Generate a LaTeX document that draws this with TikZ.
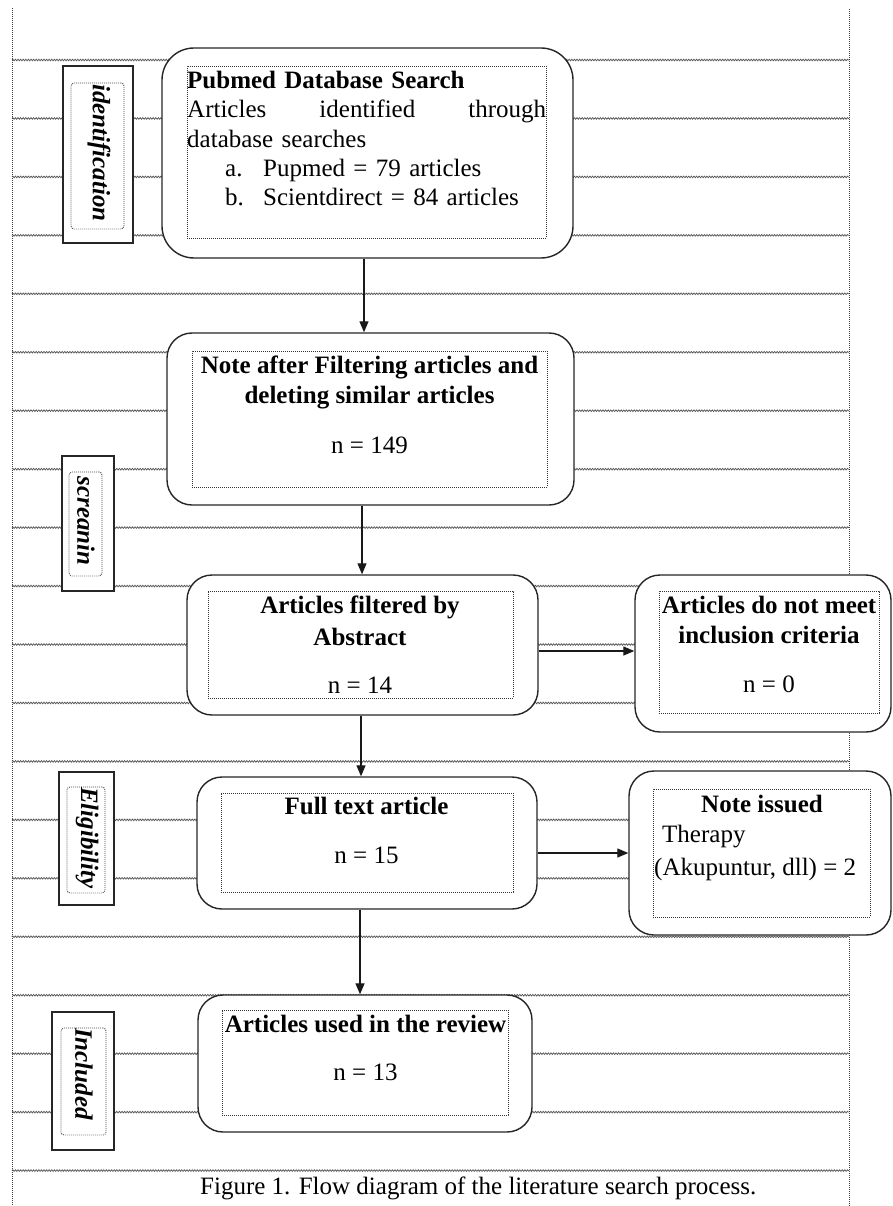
\documentclass[tikz,border=0pt]{standalone}
\usepackage{fontspec}
\setmainfont{Liberation Serif}
\usetikzlibrary{arrows.meta,decorations.pathmorphing}
\tikzstyle{stagebox}  =[draw=black!85,fill=white,rounded corners=25pt,line width=1.4pt,inner sep=0pt]
\tikzstyle{innerframe}=[draw=black!80,dash pattern=on 0.9pt off 1.1pt,line width=0.9pt,inner sep=0pt]
\tikzstyle{tagbox}    =[draw=black!85,fill=white,line width=1.4pt,inner sep=0pt]
\tikzstyle{tagframe}  =[draw=black!70,dash pattern=on 0.9pt off 1.1pt,line width=0.9pt,rounded corners=3pt,inner sep=0pt]
\tikzstyle{tagtext}   =[rotate=-90,font=\fontsize{25}{30}\selectfont\bfseries\itshape,inner sep=0pt]
\tikzstyle{bodytext}  =[font=\fontsize{25}{30}\selectfont,inner sep=0pt,align=center,anchor=north]
\tikzstyle{flow}      =[-{Triangle[length=11pt,width=9pt]},line width=1.3pt,black!90]
\tikzstyle{ruleline}  =[black!65,line width=0.75pt,decorate,decoration={snake,amplitude=0.8pt,segment length=2.6pt}]
\tikzstyle{sideline}  =[black!75,line width=1pt,dash pattern=on 1pt off 1pt]

\begin{document}
\begin{tikzpicture}[x=1pt,y=-1pt]
  \useasboundingbox (0,0) rectangle (892,1206);

  % page grid behind the chart
  \foreach \k in {0,...,19}
    \draw[ruleline] (12,{60+58.45*\k}) -- (849,{60+58.45*\k});
  \draw[sideline] (12,8) -- (12,1206);
  \draw[sideline] (849,9) -- (849,1206);

  % stage labels
  \node[tagbox,minimum width=70pt,minimum height=177pt] (ident) at (98,154.5) {};
  \node[tagframe,minimum width=53pt,minimum height=146pt] (identin) at (97.5,156) {};
  \node[tagtext] (identtxt) at (99,153) {identification};

  \node[tagbox,minimum width=52pt,minimum height=135pt] (screen) at (88,523.5) {};
  \node[tagframe,minimum width=33pt,minimum height=104pt] (screenin) at (85.5,524) {};
  \node[tagtext] (screentxt) at (86,521) {screanin};

  \node[tagbox,minimum width=55pt,minimum height=133pt] (elig) at (86.5,838.5) {};
  \node[tagframe,minimum width=38pt,minimum height=106pt] (eligin) at (86,840) {};
  \node[tagtext] (eligtxt) at (87,838) {Eligibility};

  \node[tagbox,minimum width=62pt,minimum height=138pt] (incl) at (83,1081) {};
  \node[tagframe,minimum width=45pt,minimum height=107pt] (inclin) at (83.5,1081.5) {};
  \node[tagtext] (incltxt) at (84,1074) {Included};

  % flow boxes
  \node[stagebox,rounded corners=32pt,minimum width=411pt,minimum height=210pt] (search) at (367.5,153) {};
  \node[innerframe,minimum width=359pt,minimum height=172pt] (searchin) at (366.5,152) {};
  \node[bodytext,align=left,text width=359pt,anchor=north west,font=\fontsize{25}{29.3}\selectfont] (searchtxt) at (187,71)
    {\textbf{Pubmed Database Search}\\
     \leavevmode\hbox to 359pt{Articles\hfill identified\hfill through}\\
     database searches\\
     \hspace*{38pt}\makebox[38pt][l]{a.}Pupmed = 79 articles\\
     \hspace*{38pt}\makebox[38pt][l]{b.}Scientdirect = 84 articles};

  \node[stagebox,minimum width=407pt,minimum height=172pt] (filter) at (370.5,419) {};
  \node[innerframe,minimum width=355pt,minimum height=136pt] (filterin) at (369.5,419) {};
  \node[bodytext] (filtertxt) at (369.5,356)
    {\textbf{Note after Filtering articles and}\\\textbf{deleting similar articles}\\[20pt]n = 149};

  \node[stagebox,minimum width=351pt,minimum height=140pt] (abstract) at (362.5,645) {};
  \node[innerframe,minimum width=305pt,minimum height=107pt] (abstractin) at (360.5,644.5) {};
  \node[bodytext] (abstracttxt) at (360,596)
    {\textbf{Articles filtered by}\\[2pt]\textbf{Abstract}\\[18pt]n = 14};

  \node[stagebox,minimum width=256pt,minimum height=157pt] (excluded) at (763,653.5) {};
  \node[innerframe,minimum width=220pt,minimum height=122pt] (excludedin) at (769,652) {};
  \node[bodytext] (excludedtxt) at (769,596)
    {\textbf{Articles do not meet}\\\textbf{inclusion criteria}\\[19pt]n = 0};

  \node[stagebox,minimum width=340pt,minimum height=132pt] (fulltext) at (367,843) {};
  \node[innerframe,minimum width=292pt,minimum height=99pt] (fulltextin) at (367,842.5) {};
  \node[bodytext] (fulltexttxt) at (366.5,797)
    {\textbf{Full text article}\\[19pt]n = 15};

  \node[stagebox,minimum width=262pt,minimum height=164pt] (issued) at (760,853) {};
  \node[innerframe,minimum width=217pt,minimum height=128pt] (issuedin) at (761.5,853) {};
  \node[bodytext] (issuedhead) at (762,795) {\textbf{Note issued}};
  \node[bodytext,align=left,anchor=north west] (issuedtxt) at (654,825)
    {\hspace*{8pt}Therapy\\[3pt](Akupuntur, dll) = 2};

  \node[stagebox,minimum width=334pt,minimum height=137pt] (review) at (365,1063.5) {};
  \node[innerframe,minimum width=286pt,minimum height=105pt] (reviewin) at (365,1062.5) {};
  \node[bodytext] (reviewtxt) at (365.5,1015)
    {\textbf{Articles used in the review}\\[18pt]n = 13};

  % connectors
  \draw[flow] (search.south -| 364,0) -- (filter.north -| 364,0);
  \draw[flow] (filter.south -| 362,0) -- (abstract.north -| 362,0);
  \draw[flow] (abstract.south -| 361,0) -- (fulltext.north -| 361,0);
  \draw[flow] (fulltext.south -| 360,0) -- (review.north -| 360,0);
  \draw[flow] (abstract.east |- 0,651) -- (excluded.west |- 0,651);
  \draw[flow] (fulltext.east |- 0,853) -- (issued.west |- 0,853);

  \node[font=\fontsize{25}{30}\selectfont,inner sep=0pt,anchor=base west] (caption) at (200,1194)
    {Figure 1. Flow diagram of the literature search process.};
\end{tikzpicture}
\end{document}
